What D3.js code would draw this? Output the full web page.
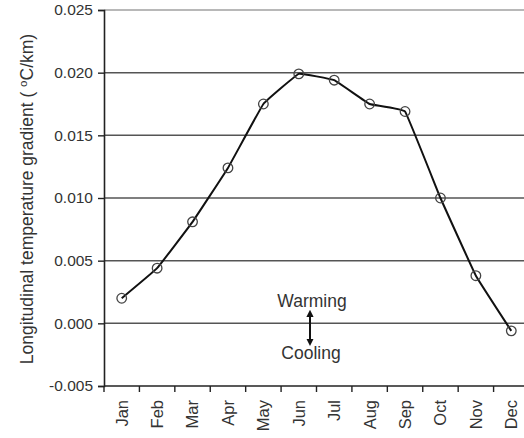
<!DOCTYPE html>
<html>
<head>
<meta charset="utf-8">
<script src="https://cdn.jsdelivr.net/npm/d3@7"></script>
<style>
  html, body { margin: 0; padding: 0; background: #fff; }
  svg { display: block; font-family: Arial, "Liberation Sans", sans-serif; }
</style>
</head>
<body>
<svg id="chart" width="524" height="438"></svg>
<script>
// Monthly longitudinal temperature gradient (°C/km)
const months = ["Jan", "Feb", "Mar", "Apr", "May", "Jun", "Jul", "Aug", "Sep", "Oct", "Nov", "Dec"];
const gradient = [0.0020, 0.0044, 0.0081, 0.0124, 0.0175, 0.0199, 0.0194, 0.0175, 0.0169, 0.0100, 0.0038, -0.0006];
const yTicks = [-0.005, 0.000, 0.005, 0.010, 0.015, 0.020, 0.025];

const svg = d3.select("#chart");
const margin = { left: 104, top: 10, right: -5, bottom: 52 };
const W = 524, H = 438;
const ink = "#333";

const x = d3.scaleBand().domain(months).range([margin.left, W - margin.right]);
const y = d3.scaleLinear().domain([-0.005, 0.025]).range([H - margin.bottom, margin.top]);

// horizontal gridlines
svg.append("g").selectAll("line")
  .data(yTicks.filter(d => d > -0.005))
  .join("line")
  .attr("x1", margin.left).attr("x2", W)
  .attr("y1", d => y(d)).attr("y2", d => y(d))
  .attr("stroke", d => d === 0.025 ? "#a0a0a0" : "#555")
  .attr("stroke-width", 1.5);

// y axis
const fmt = d => d3.format(".3f")(d).replace("\u2212", "-");
const yAxis = svg.append("g")
  .attr("transform", `translate(${margin.left},0)`)
  .call(d3.axisLeft(y).tickValues(yTicks).tickFormat(fmt).tickSize(6).tickPadding(5));
yAxis.select(".domain").attr("stroke", "#222").attr("stroke-width", 1.6);
yAxis.selectAll(".tick line").attr("stroke", "#222").attr("stroke-width", 1.4);
yAxis.selectAll("text").attr("font-size", 15.5).attr("fill", ink)
  .attr("font-family", "Arial, 'Liberation Sans', sans-serif");

// x axis with ticks on band boundaries
const xAxisY = y(-0.005);
svg.append("line")
  .attr("x1", margin.left).attr("x2", W)
  .attr("y1", xAxisY).attr("y2", xAxisY)
  .attr("stroke", "#222").attr("stroke-width", 1.6);
svg.append("g").selectAll("line")
  .data(months)
  .join("line")
  .attr("x1", d => x(d)).attr("x2", d => x(d))
  .attr("y1", xAxisY).attr("y2", xAxisY + 6)
  .attr("stroke", "#222").attr("stroke-width", 1.4);
svg.append("g").selectAll("text")
  .data(months)
  .join("text")
  .attr("transform", d => `translate(${x(d) + x.bandwidth() / 2},${xAxisY + 14}) rotate(-90)`)
  .attr("dy", "0.36em")
  .attr("text-anchor", "end")
  .attr("font-size", 16.5)
  .attr("fill", ink)
  .text(d => d);

// y axis title
const title = svg.append("text")
  .attr("transform", `translate(33,${(margin.top + H - margin.bottom) / 2 + 1}) rotate(-90)`)
  .attr("text-anchor", "middle")
  .attr("font-size", 17.5)
  .attr("fill", ink);
title.append("tspan").text("Longitudinal temperature gradient ( ");
title.append("tspan").attr("font-size", 11.5).attr("dy", -6).text("o");
title.append("tspan").attr("dy", 6).text("C/km)");

// data line
const cx = d => x(d) + x.bandwidth() / 2;
const line = d3.line()
  .x((d, i) => cx(months[i]))
  .y(d => y(d))
  .curve(d3.curveCardinal.tension(0.8));
svg.append("path")
  .datum(gradient)
  .attr("d", line)
  .attr("fill", "none")
  .attr("stroke", "#111")
  .attr("stroke-width", 2);

svg.append("g").selectAll("circle")
  .data(gradient)
  .join("circle")
  .attr("cx", (d, i) => cx(months[i]))
  .attr("cy", d => y(d))
  .attr("r", 4.8)
  .attr("fill", "none")
  .attr("stroke", "#444")
  .attr("stroke-width", 1.3);

// warming / cooling annotation
const ax = 311;
svg.append("text").attr("x", ax + 1).attr("y", y(0) - 16).attr("text-anchor", "middle")
  .attr("font-size", 17.5).attr("fill", ink).text("Warming");
svg.append("text").attr("x", ax).attr("y", y(0) + 36).attr("text-anchor", "middle")
  .attr("font-size", 17.5).attr("fill", ink).text("Cooling");
const defs = svg.append("defs");
defs.append("marker").attr("id", "head").attr("viewBox", "0 0 10 10")
  .attr("refX", 5).attr("refY", 5).attr("markerWidth", 3.6).attr("markerHeight", 3.6)
  .attr("orient", "auto-start-reverse")
  .append("path").attr("d", "M0,0 L10,5 L0,10 z").attr("fill", "#111");
svg.append("line")
  .attr("x1", ax - 1).attr("x2", ax - 1)
  .attr("y1", y(0) - 10).attr("y2", y(0) + 19)
  .attr("stroke", "#111").attr("stroke-width", 2)
  .attr("marker-start", "url(#head)").attr("marker-end", "url(#head)");
</script>
</body>
</html>
